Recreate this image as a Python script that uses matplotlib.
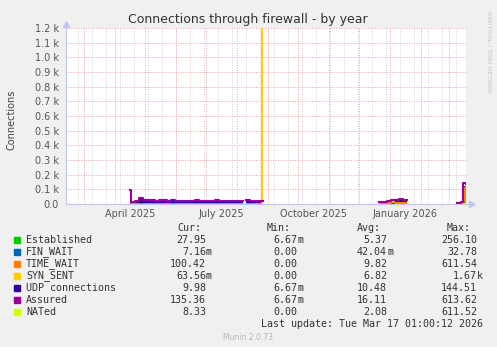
# Munin style "Connections through firewall - by year" chart

import numpy as np
import matplotlib.pyplot as plt

W, H = 497, 347
nan = np.nan

# bin starts, days since 2025-02-10 (steps, like rrdtool)
day = [65, 66, 70, 74, 78, 82, 86, 90, 94, 98, 102, 106, 110, 114, 118, 122,
       126, 130, 134, 138, 142, 146, 150, 154, 158, 162, 166, 170, 174, 178,
       181, 185, 189, 193, 196, 197.5,
       314, 318, 322, 326, 330, 334, 338, 342,
       392, 396, 398, 400]
day_end = 401

established = [5, 3, 3, 4, 3, 3, 3, 3, 3, 3, 3, 4, 3, 3, 3, 3,
               3, 3, 3, 3, 3, 3, 3, 3, 3, 3, 3, 3, 3, nan,
               3, 3, 3, 3, 0, nan,
               2, 2, 2, 3, 3, 3, 3, nan,
               1, 2, 12, 15]
fin_wait = [0, 0, 0, 0, 0, 0, 0, 0, 0, 0, 0, 0, 0, 0, 0, 0,
            0, 0, 0, 0, 0, 0, 0, 0, 0, 0, 0, 0, 0, nan,
            0, 0, 0, 0, 0, nan,
            0, 0, 0, 1, 0, 0, 0, nan,
            0, 0, 1, 1]
time_wait = [50, 2, 3, 4, 3, 2, 3, 2, 3, 2, 2, 3, 2, 2, 3, 2,
             2, 3, 2, 2, 2, 2, 3, 2, 2, 2, 2, 2, 2, nan,
             3, 2, 2, 2, 0, nan,
             8, 9, 10, 12, 11, 12, 11, nan,
             3, 5, 100, 110]
syn_sent = [2, 1, 1, 2, 1, 1, 1, 2, 1, 1, 1, 1, 1, 1, 1, 1,
            2, 1, 1, 1, 1, 1, 1, 1, 1, 1, 2, 1, 1, nan,
            1, 1, 1, 1, 1670, nan,
            1, 1, 1, 2, 1, 2, 1, nan,
            0, 0, 2, 2]
udp = [5, 8, 12, 22, 16, 14, 15, 14, 18, 14, 13, 16, 13, 13, 14, 13,
       13, 14, 13, 13, 13, 14, 17, 14, 13, 13, 13, 13, 12, nan,
       17, 14, 13, 12, 0, nan,
       4, 5, 5, 8, 9, 10, 10, nan,
       2, 3, 5, 6]
assured = [95, 14, 22, 38, 27, 24, 25, 23, 30, 24, 22, 28, 22, 21, 23, 22,
           21, 24, 22, 21, 22, 23, 28, 23, 22, 21, 22, 21, 20, nan,
           28, 23, 22, 20, 20, nan,
           15, 17, 18, 30, 26, 32, 28, nan,
           8, 12, 145, 140]
nated = [3, 2, 2, 3, 2, 2, 2, 2, 2, 2, 2, 3, 2, 2, 2, 2,
         2, 2, 2, 2, 2, 2, 2, 2, 2, 2, 2, 2, 2, nan,
         2, 2, 2, 2, 2, nan,
         2, 2, 2, 3, 3, 3, 3, nan,
         1, 2, 8, 10]

names = ['Established', 'FIN_WAIT', 'TIME_WAIT', 'SYN_SENT',
         'UDP connections', 'Assured', 'NATed']
colors = ['#00CC00', '#0066B3', '#FF8000', '#FFCC00', '#330099', '#990099', '#CCFF00']
cur = ['27.95', '7.16m', '100.42', '63.56m', '9.98', '135.36', '8.33']
vmin = ['6.67m', '0.00', '0.00', '0.00', '6.67m', '6.67m', '0.00']
vavg = ['5.37', '42.04m', '9.82', '6.82', '10.48', '16.11', '2.08']
vmax = ['256.10', '32.78', '611.54', '1.67k', '144.51', '613.62', '611.52']

month_labels = ['April 2025', 'July 2025', 'October 2025', 'January 2026']
month_label_dates = ['2025-04-16', '2025-07-16', '2025-10-16', '2026-01-16']

start = np.datetime64('2025-02-10')

fig = plt.figure(figsize=(W / 100, H / 100), dpi=100, facecolor='#F0F0F0')
ax = fig.add_axes([66 / W, (H - 204) / H, 400 / W, 176 / H])
ax.set_facecolor('white')
ax.set_xlim(1, 401)
ax.set_ylim(0, 1200)
for s in ax.spines.values():
    s.set_visible(False)

# grid
minor_days = np.arange(13, 401, 14)
for d in minor_days:
    ax.axvline(d, color='#D4D4D4', lw=0.7, dashes=(1, 1.5), zorder=0)
months = np.arange('2025-03', '2026-04', dtype='datetime64[M]')
month_days = (months.astype('datetime64[D]') - start).astype(int)
for d in month_days:
    ax.axvline(d, color='#EFA3A3', lw=0.7, dashes=(1, 1.5), zorder=0.5)
for v in range(100, 1300, 100):
    ax.axhline(v, color='#EFA3A3', lw=0.7, dashes=(1, 1.5), zorder=0.5)

# stacked areas as bars (one bar per bin, gaps = no data)
edges = np.array(day + [day_end], dtype=float)
widths = np.diff(edges)
stack = [established, fin_wait, time_wait, syn_sent, udp]
bottom = np.zeros(len(day))
for vals, c in zip(stack, colors[:5]):
    v = np.nan_to_num(np.array(vals, dtype=float))
    ax.bar(day, v, width=widths, bottom=bottom, align='edge', color=c, lw=0,
           antialiased=False, zorder=2)
    bottom = bottom + v

def ext(a):
    a = np.array(a, dtype=float)
    return np.append(a, a[-1])

ax.plot(edges, ext(assured), drawstyle='steps-post', color=colors[5], lw=1.5, zorder=3)
ax.plot(edges, ext(nated), drawstyle='steps-post', color=colors[6], lw=0.8, zorder=3)

# axes lines + arrows
axis_col = '#C4C4EE'
ax.plot([0, 1.01], [0, 0], transform=ax.transAxes, color=axis_col, lw=0.8, clip_on=False, zorder=4)
ax.plot([0, 0], [0, 1.01], transform=ax.transAxes, color=axis_col, lw=0.8, clip_on=False, zorder=4)
ax.plot([1.015], [0], marker='>', transform=ax.transAxes, color=axis_col, ms=4, clip_on=False, zorder=4)
ax.plot([0], [1.02], marker='^', transform=ax.transAxes, color=axis_col, ms=4, clip_on=False, zorder=4)

# ticks
lab_days = (np.array(month_label_dates, dtype='datetime64[D]') - start).astype(int)
ax.set_xticks(lab_days)
ax.set_xticklabels(month_labels)
yt = list(range(0, 1300, 100))
ax.set_yticks(yt)
ax.set_yticklabels(['0.0'] + ['%.1f k' % (v / 1000) for v in yt[1:]])
ax.tick_params(length=0, labelsize=7, colors='#555555')
ax.tick_params(axis='x', pad=3.5)
ax.tick_params(axis='y', pad=5)

# texts
def px(xp, yp):
    return xp / W, 1 - yp / H

fig.text(*px(248, 19), 'Connections through firewall - by year', ha='center', va='center',
         fontsize=9, color='#333333')
fig.text(*px(12, 120), 'Connections', rotation=90, ha='center', va='center',
         fontsize=7, color='#444444')
fig.text(*px(489, 52), 'RRDTOOL / TOBI OETIKER', rotation=270, ha='center', va='center',
         fontsize=4.6, color='#C4C4C4')

mono = 'DejaVu Sans Mono'
fs = 7.2
col_end = [206, 297, 387, 477]
for hx, h in zip([177, 267, 357, 447], ['Cur:', 'Min:', 'Avg:', 'Max:']):
    fig.text(*px(hx, 228), h, family=mono, fontsize=fs, color='#333333', va='center')

def put_value(xe, yp, s):
    if s[-1].isalpha():
        num, suf = s[:-1], s[-1]
    else:
        num, suf = s, ''
    fig.text(*px(xe, yp), num, family=mono, fontsize=fs, color='#333333', ha='right', va='center')
    if suf:
        fig.text(*px(xe, yp), suf, family=mono, fontsize=fs, color='#333333', ha='left', va='center')

for i, name in enumerate(names):
    yp = 240 + 12 * i
    fig.patches.append(plt.Rectangle(px(14, yp + 3), 6 / W, 6 / H, transform=fig.transFigure,
                                     color=colors[i], figure=fig))
    fig.text(*px(26, yp), name, family=mono, fontsize=fs, color='#333333', va='center')
    for xe, s in zip(col_end, [cur[i], vmin[i], vavg[i], vmax[i]]):
        put_value(xe, yp, s)

fig.text(*px(483, 324), 'Last update: Tue Mar 17 01:00:12 2026', family=mono, fontsize=fs,
         color='#333333', ha='right', va='center')
fig.text(*px(248, 337), 'Munin 2.0.73', fontsize=5.5, color='#B8B8B8', ha='center', va='center')

fig.savefig('out.png', dpi=100, facecolor=fig.get_facecolor())
